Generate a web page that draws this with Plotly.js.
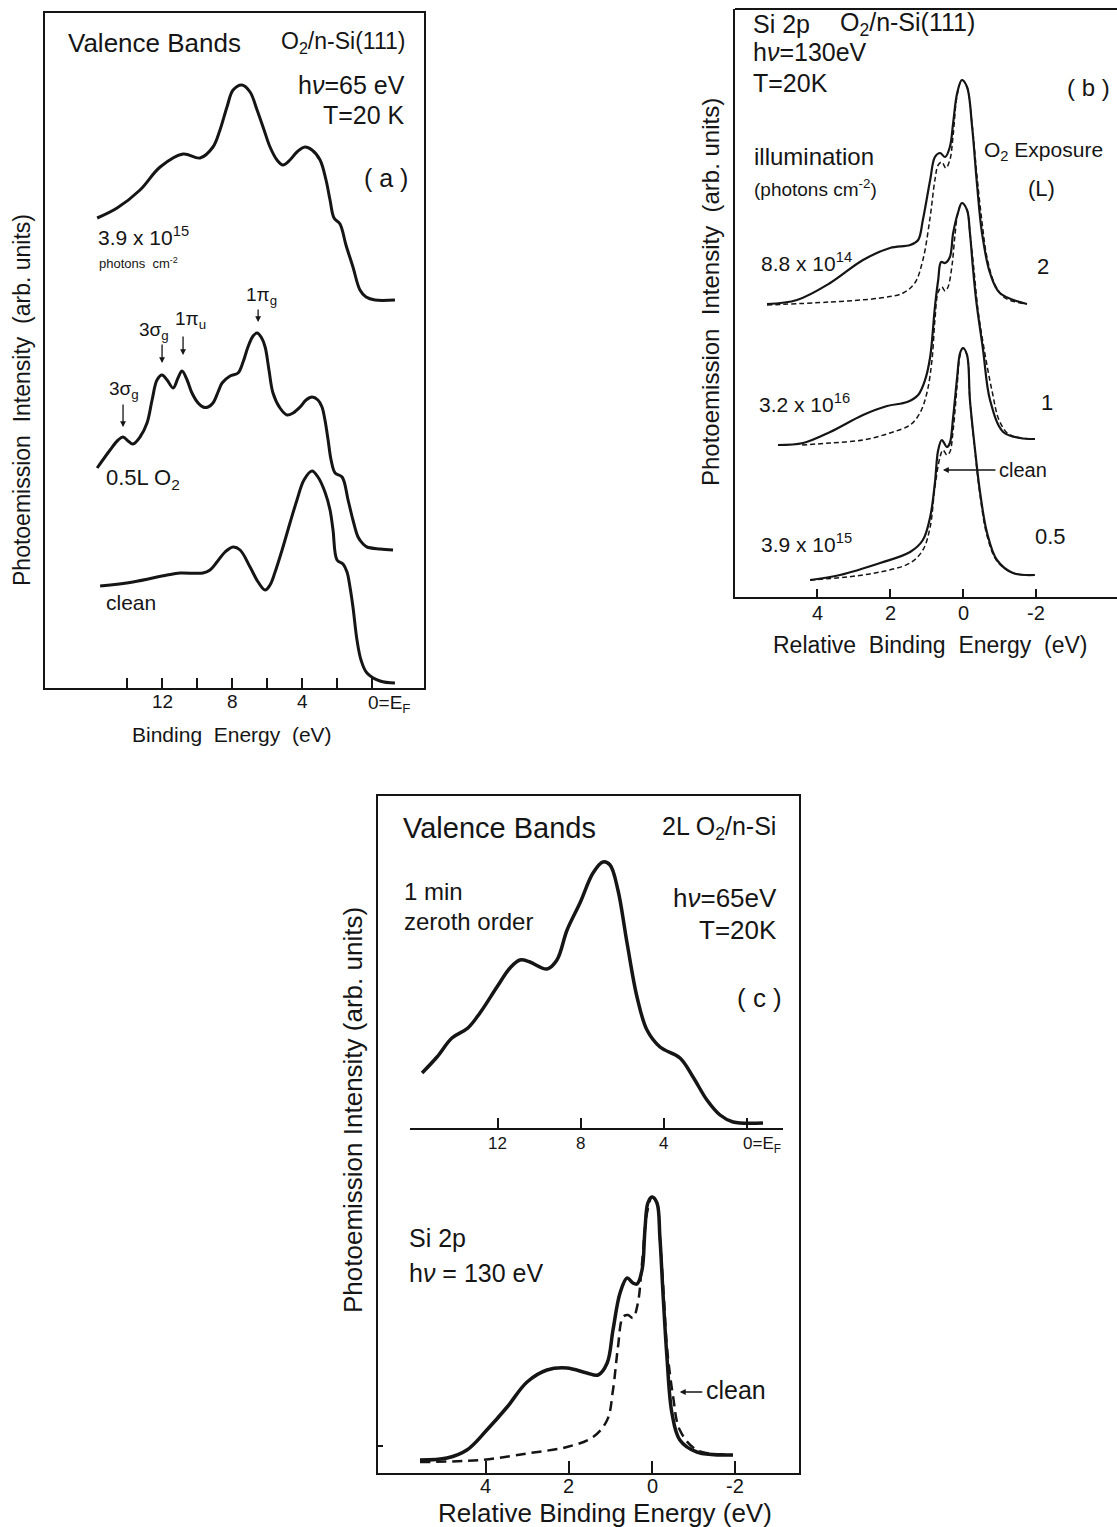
<!DOCTYPE html>
<html>
<head>
<meta charset="utf-8">
<script src="https://cdn.plot.ly/plotly-3.0.1.min.js"></script>
<style>html,body{margin:0;padding:0;background:#fff;}#chart{width:1117px;height:1527px;}</style>
</head>
<body>
<div id="chart"></div>
<script>
// ---------- Panel (a): valence bands, O2/n-Si(111), hv = 65 eV ----------
const aIllumEnergy = [15.71,14.57,13.26,12.11,10.80,9.83,9.09,8.69,8.29,7.94,7.43,6.97,6.57,6.17,5.83,5.43,5.09,4.69,4.29,3.83,3.43,2.97,2.63,2.40,2.17,1.83,1.49,1.09,0.69,0.34,-0.17,-1.31];
const aIllumIntensity = [470,480,498,521,534,530,541,558,581,598,603,596,578,558,541,528,523,528,536,541,538,528,508,488,470,464,443,421,398,391,388,388];
const aO2Energy = [15.71,14.97,14.51,14.23,13.94,13.66,13.26,12.86,12.57,12.29,12.00,11.71,11.37,11.09,10.86,10.57,10.29,9.94,9.66,9.37,9.09,8.80,8.57,8.11,7.66,7.37,7.09,6.80,6.57,6.34,6.11,5.89,5.66,5.26,4.86,4.51,4.11,3.77,3.43,3.09,2.86,2.69,2.51,2.34,2.11,1.71,1.37,1.09,0.80,0.51,0.29,-0.46,-1.20];
const aO2Intensity = [220,238,248,251,247,244,251,265,288,308,313,308,300,310,317,308,295,285,281,281,285,296,305,312,315,326,341,352,355,351,341,318,295,280,273,275,281,288,291,288,281,268,248,228,215,211,188,168,151,144,141,139,138];
const aCleanEnergy = [15.54,13.66,11.71,10.97,9.66,9.26,8.86,8.40,7.94,7.54,6.97,6.51,6.11,5.83,5.54,5.14,4.69,4.29,3.89,3.43,3.09,2.69,2.40,2.23,2.00,1.66,1.43,1.26,1.09,0.86,0.63,0.29,-0.46,-1.31];
const aCleanIntensity = [102,106,113,115,115,118,126,136,141,138,121,106,98,103,116,138,165,188,208,217,211,196,178,158,128,124,116,101,81,48,28,15,7,5];
const aTickVals = [14,12,10,8,6,4,2,0];
const aLabelVals = [12,8,4];
const aLabelText = ['12','8','4'];

// ---------- Panel (b): Si 2p, hv = 130 eV ----------
const b2LEnergy = [5.37,4.55,3.64,2.74,2.00,1.45,1.23,1.10,0.90,0.77,0.63,0.49,0.36,0.27,0.16,0.03,-0.11,-0.25,-0.38,-0.52,-0.74,-1.01,-1.75];
const b2LIntensity = [293,297,314,337,349,352,357,377,417,440,444,440,450,474,504,517,510,470,414,364,324,304,293];
const b2LCleanEnergy = [5.37,3.64,2.27,1.64,1.32,1.10,0.90,0.77,0.68,0.58,0.47,0.36,0.27,0.16,0.03,-0.11,-0.25,-0.38,-0.52,-0.66,-0.88,-1.15,-1.75];
const b2LCleanIntensity = [292,295,299,304,314,337,380,417,432,435,429,437,462,502,517,510,472,422,375,339,312,299,293];
const b1LEnergy = [5.07,4.38,3.64,2.74,2.08,1.53,1.23,1.04,0.90,0.77,0.68,0.60,0.49,0.36,0.27,0.14,0.03,-0.11,-0.19,-0.27,-0.36,-0.55,-0.74,-1.10,-1.56,-1.97];
const b1LIntensity = [152,154,165,182,191,195,202,217,240,290,317,335,334,340,364,384,394,387,364,330,297,247,197,165,159,158];
const b1LCleanEnergy = [4.41,3.64,2.74,2.00,1.45,1.18,0.99,0.85,0.77,0.68,0.58,0.49,0.41,0.30,0.22,0.14,0.03,-0.11,-0.19,-0.30,-0.41,-0.55,-0.79,-1.01,-1.29,-1.97];
const b1LCleanIntensity = [152,154,157,164,172,184,204,237,277,305,310,306,310,332,362,384,394,387,364,327,287,254,207,175,162,158];
const b05LEnergy = [4.19,3.37,2.27,1.45,1.10,0.90,0.77,0.68,0.58,0.44,0.36,0.27,0.16,0.08,0.00,-0.11,-0.19,-0.33,-0.47,-0.66,-0.93,-1.37,-1.97];
const b05LIntensity = [17,22,34,45,57,80,114,147,157,150,154,180,220,244,249,242,197,147,104,64,37,24,22];
const b05LCleanEnergy = [4.19,3.18,2.27,1.45,1.10,0.90,0.77,0.63,0.55,0.44,0.36,0.27,0.16,0.08,0.00,-0.11,-0.19,-0.33,-0.47,-0.66,-0.93,-1.37,-1.97];
const b05LCleanIntensity = [17,20,25,34,47,70,110,140,147,142,145,167,212,242,249,242,197,145,101,61,36,24,22];
const bTickVals = [4,2,0,-2];
const bTickText = ['4','2','0','-2'];

// ---------- Panel (c): 2 L O2/n-Si ----------
const cVBEnergy = [15.66,14.94,14.22,13.45,12.87,12.05,11.42,10.94,10.46,9.64,9.16,8.67,8.05,7.42,6.94,6.60,6.22,5.78,5.30,4.82,4.19,3.23,2.60,1.93,1.30,0.67,-0.77];
const cVBIntensity = [55,71,90,100,115,141,160,168,166,159,168,198,225,255,266,263,238,185,131,98,81,70,51,28,13,6,5];
const cSiEnergy = [5.59,4.94,4.46,3.98,3.49,3.01,2.53,2.05,1.57,1.30,1.08,0.94,0.77,0.60,0.46,0.36,0.24,0.17,0.10,0.00,-0.12,-0.19,-0.27,-0.36,-0.48,-0.67,-1.08,-1.95];
const cSiIntensity = [13,15,23,43,66,91,103,105,100,98,110,143,180,195,190,189,203,243,270,276,270,236,176,116,60,33,21,18];
const cSiCleanEnergy = [5.59,4.14,2.94,2.05,1.42,1.08,0.94,0.82,0.70,0.58,0.46,0.34,0.24,0.12,0.00,-0.12,-0.19,-0.29,-0.36,-0.51,-0.67,-1.08,-1.95];
const cSiCleanIntensity = [11,13,20,26,36,53,83,126,156,158,155,170,210,260,276,270,236,173,126,76,43,23,18];
const cVBTickVals = [12,8,4,0];
const cVBLabelVals = [12,8,4];
const cVBLabelText = ['12','8','4'];

// ---------- drawing ----------
const W = 1117, H = 1527;
const X = v => v / W;
const Y = v => 1 - v / H;
const INK = '#151515';
const FONT = 'Liberation Sans, Arial, sans-serif';
const NB = '\u00a0';

function line(x, y, xa, ya, width, dash) {
  return {x: x, y: y, xaxis: xa, yaxis: ya, mode: 'lines', hoverinfo: 'skip',
    line: {color: INK, width: width, shape: 'spline', smoothing: 1.0, dash: dash || 'solid'}};
}

const traces = [
  line(aIllumEnergy, aIllumIntensity, 'x', 'y', 3),
  line(aO2Energy, aO2Intensity, 'x', 'y', 3),
  line(aCleanEnergy, aCleanIntensity, 'x', 'y', 3),
  line(b2LCleanEnergy, b2LCleanIntensity, 'x2', 'y2', 1.5, '5px,3px'),
  line(b2LEnergy, b2LIntensity, 'x2', 'y2', 2.2),
  line(b1LCleanEnergy, b1LCleanIntensity, 'x2', 'y2', 1.5, '5px,3px'),
  line(b1LEnergy, b1LIntensity, 'x2', 'y2', 2.2),
  line(b05LCleanEnergy, b05LCleanIntensity, 'x2', 'y2', 1.5, '5px,3px'),
  line(b05LEnergy, b05LIntensity, 'x2', 'y2', 2.2),
  line(cVBEnergy, cVBIntensity, 'x4', 'y4', 3.5),
  line(cSiCleanEnergy, cSiCleanIntensity, 'x3', 'y3', 2.5, '10px,6px'),
  line(cSiEnergy, cSiIntensity, 'x3', 'y3', 3.5)
];

const axBase = {showgrid: false, zeroline: false, linecolor: INK, linewidth: 2, tickcolor: INK,
  tickwidth: 1.5, fixedrange: true, showticklabels: false};

function txt(x, y, text, size, xanchor, angle) {
  return {xref: 'paper', yref: 'paper', x: X(x), y: Y(y), text: text, showarrow: false,
    xanchor: xanchor || 'left', yanchor: 'middle', textangle: angle || 0,
    font: {family: FONT, size: size, color: INK}};
}
function tickLabels(xref, vals, texts, y, size) {
  return vals.map((v, i) => ({xref: xref, yref: 'paper', x: v, y: Y(y), text: texts[i],
    showarrow: false, xanchor: 'center', yanchor: 'middle',
    font: {family: FONT, size: size, color: INK}}));
}
function arrow(xref, yref, x, y, ax, ay) {
  return {xref: xref, yref: yref, x: x, y: y, ax: ax, ay: ay, text: '', showarrow: true,
    arrowhead: 2, arrowsize: 0.9, arrowwidth: 1.3, arrowcolor: INK};
}

const annotations = [
  // panel (a)
  txt(66, 43, 'Valence Bands', 26, 'left'),
  txt(407, 43, 'O<sub>2</sub>/n-Si(111)', 23, 'right'),
  txt(407, 85, 'h<i>ν</i>=65 eV', 25, 'right'),
  txt(407, 115, 'T=20 K', 25, 'right'),
  txt(410, 178, '(' + NB + 'a' + NB + ')', 25, 'right'),
  txt(96, 236, '3.9 x 10<sup>15</sup>', 21, 'left'),
  txt(97, 263, 'photons' + NB + NB + 'cm<sup>-2</sup>', 13, 'left'),
  txt(261, 296, '1π<sub>g</sub>', 19, 'center'),
  txt(154, 331, '3σ<sub>g</sub>', 19, 'center'),
  txt(190, 320, '1π<sub>u</sub>', 19, 'center'),
  txt(124, 390, '3σ<sub>g</sub>', 19, 'center'),
  txt(104, 479, '0.5L O<sub>2</sub>', 22, 'left'),
  txt(104, 602, 'clean', 21, 'left'),
  ...tickLabels('x', aLabelVals, aLabelText, 702, 19),
  txt(366, 704, '0=E<sub>F</sub>', 19, 'left'),
  txt(22, 400, 'Photoemission' + NB + NB + 'Intensity' + NB + NB + '(arb. units)', 23, 'center', -90),
  txt(232, 734, 'Binding' + NB + NB + 'Energy' + NB + NB + '(eV)', 21, 'center'),
  arrow('x', 'y', 6.51, 366, 0, -14),
  arrow('x', 'y', 12.0, 325, 0, -20),
  arrow('x', 'y', 10.8, 333, 0, -20),
  arrow('x', 'y', 14.23, 261, 0, -24),
  // panel (b)
  txt(751, 24, 'Si' + NB + '2p', 25, 'left'),
  txt(838, 24, 'O<sub>2</sub>/n-Si(111)', 25, 'left'),
  txt(751, 52, 'h<i>ν</i>=130eV', 25, 'left'),
  txt(751, 83, 'T=20K', 25, 'left'),
  txt(1112, 88, '(' + NB + 'b' + NB + ')', 24, 'right'),
  txt(752, 157, 'illumination', 24, 'left'),
  txt(752, 188, '(photons cm<sup>-2</sup>)', 19, 'left'),
  txt(982, 151, 'O<sub>2</sub> Exposure', 21, 'left'),
  txt(1041, 188, '(L)', 22, 'center'),
  txt(759, 262, '8.8 x 10<sup>14</sup>', 21, 'left'),
  txt(1043, 267, '2', 22, 'center'),
  txt(757, 403, '3.2 x 10<sup>16</sup>', 21, 'left'),
  txt(1047, 402, '1', 22, 'center'),
  txt(759, 543, '3.9 x 10<sup>15</sup>', 21, 'left'),
  txt(1050, 537, '0.5', 22, 'center'),
  txt(997, 470, 'clean', 20, 'left'),
  arrow('x2', 'y2', 0.55, 127, 54, 0),
  ...tickLabels('x2', bTickVals, bTickText, 613, 20),
  txt(710, 292, 'Photoemission' + NB + NB + 'Intensity' + NB + NB + '(arb. units)', 24, 'center', -90),
  txt(930, 645, 'Relative' + NB + NB + 'Binding' + NB + NB + 'Energy' + NB + NB + '(eV)', 23, 'center'),
  // panel (c)
  txt(401, 828, 'Valence Bands', 29, 'left'),
  txt(778, 828, '2L O<sub>2</sub>/n-Si', 25, 'right'),
  txt(402, 891, '1' + NB + 'min', 24, 'left'),
  txt(402, 922, 'zeroth order', 24, 'left'),
  txt(779, 898, 'h<i>ν</i>=65eV', 26, 'right'),
  txt(779, 930, 'T=20K', 26, 'right'),
  txt(784, 998, '(' + NB + 'c' + NB + ')', 26, 'right'),
  ...tickLabels('x4', cVBLabelVals, cVBLabelText, 1143, 17),
  txt(741, 1145, '0=E<sub>F</sub>', 17, 'left'),
  txt(407, 1238, 'Si 2p', 25, 'left'),
  txt(407, 1273, 'h<i>ν</i> = 130 eV', 25, 'left'),
  txt(704, 1390, 'clean', 25, 'left'),
  arrow('x3', 'y3', -0.67, 81, 24, 0),
  ...tickLabels('x3', bTickVals, bTickText, 1486, 20),
  txt(353, 1110, 'Photoemission Intensity (arb. units)', 26, 'center', -90),
  txt(605, 1513, 'Relative Binding Energy (eV)', 26, 'center')
];

const layout = {
  width: W, height: H, margin: {l: 0, r: 0, t: 0, b: 0, pad: 0},
  paper_bgcolor: '#ffffff', plot_bgcolor: 'rgba(0,0,0,0)', showlegend: false,
  font: {family: FONT, color: INK, size: 20},
  xaxis: Object.assign({}, axBase, {domain: [X(45), X(424)], range: [18.69, -2.97], anchor: 'y',
    showline: true, mirror: true, ticks: 'inside', ticklen: 10, tickmode: 'array',
    tickvals: aTickVals}),
  yaxis: Object.assign({}, axBase, {domain: [Y(688), Y(13)], range: [0, 675], anchor: 'x',
    showline: true, mirror: true, ticks: ''}),
  xaxis2: Object.assign({}, axBase, {domain: [X(735), 1], range: [6.247, -4.219], anchor: 'y2',
    showline: true, mirror: false, ticks: 'inside', ticklen: 8, tickmode: 'array',
    tickvals: bTickVals}),
  yaxis2: Object.assign({}, axBase, {domain: [Y(597), Y(9)], range: [0, 588], anchor: 'x2',
    showline: true, mirror: false, ticks: ''}),
  xaxis3: Object.assign({}, axBase, {domain: [X(378), X(799)], range: [6.602, -3.542], anchor: 'y3',
    showline: true, mirror: true, ticks: 'inside', ticklen: 12, tickmode: 'array',
    tickvals: bTickVals}),
  yaxis3: Object.assign({}, axBase, {domain: [Y(1473), Y(796)], range: [0, 677], anchor: 'x3',
    showline: true, mirror: true, ticks: 'inside', ticklen: 5, tickmode: 'array', tickvals: [27]}),
  xaxis4: Object.assign({}, axBase, {domain: [X(410), X(783)], range: [16.24, -1.735], anchor: 'y4',
    showline: true, linewidth: 1.5, mirror: false, ticks: 'inside', ticklen: 10, tickmode: 'array',
    tickvals: cVBTickVals}),
  yaxis4: Object.assign({}, axBase, {domain: [Y(1128), Y(796)], range: [0, 332], anchor: 'x4',
    visible: false}),
  shapes: [
    {type: 'line', xref: 'paper', yref: 'paper', x0: X(735), x1: 1, y0: Y(9), y1: Y(9),
      line: {color: INK, width: 2}}
  ],
  annotations: annotations
};

Plotly.newPlot('chart', traces, layout, {staticPlot: true, displayModeBar: false});
</script>
</body>
</html>
